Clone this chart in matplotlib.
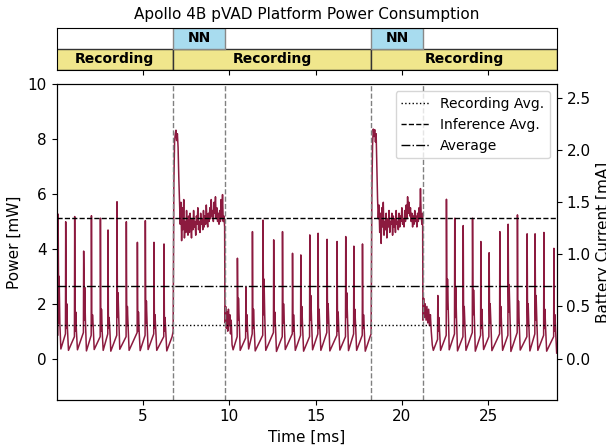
import numpy as np
import matplotlib.pyplot as plt

plt.rcParams['font.size'] = 11

VOLT = 3.8  # mW -> mA

# recording spikes: time [ms] and levels [mW]
rec_t = [0.10, 0.54, 1.06, 1.58, 2.03, 2.55, 2.99, 3.51, 4.05, 4.69, 5.15, 5.65, 6.23,
         10.48, 10.97, 11.35, 11.96, 12.58, 13.09, 13.67, 14.15, 14.67, 15.15, 15.67, 16.25, 16.75, 17.22, 17.72,
         22.08, 22.58, 23.06, 23.55, 24.09, 24.57, 25.05, 25.67, 26.15, 26.69, 27.25, 27.71, 28.22, 28.80]
rec_peak = [5.27, 4.99, 5.18, 3.92, 5.21, 5.12, 4.69, 5.72, 4.99, 4.24, 5.03, 4.24, 4.18,
            3.66, 2.60, 4.63, 5.05, 4.33, 4.63, 3.84, 3.78, 4.51, 4.57, 4.35, 4.27, 4.45, 4.10, 4.18,
            2.30, 5.81, 5.12, 4.85, 5.12, 4.27, 3.86, 4.63, 4.90, 5.24, 4.55, 4.55, 4.60, 4.02]
rec_bump = [3.0, 2.0, 1.7, 2.6, 1.6, 1.8, 1.5, 2.4, 1.9, 1.7, 2.1, 1.6, 1.5,
            2.2, 1.6, 1.8, 2.9, 1.7, 2.0, 1.6, 1.9, 2.3, 1.8, 2.0, 1.7, 2.4, 1.8, 1.6,
            1.5, 2.9, 2.6, 1.9, 2.5, 1.8, 2.0, 1.9, 2.7, 2.1, 2.0, 2.3, 1.8, 1.6]
rec_tail = [1.3, 1.1, 1.0, 1.4, 1.2, 1.0, 1.1, 1.5, 1.2, 1.0, 1.3, 1.1, 1.0,
            1.4, 1.0, 1.1, 1.6, 1.2, 1.3, 1.0, 1.2, 1.4, 1.1, 1.3, 1.0, 1.5, 1.2, 1.1,
            1.0, 1.8, 1.5, 1.2, 1.6, 1.1, 1.3, 1.2, 1.7, 1.3, 1.2, 1.4, 1.1, 1.0]
rec_low = [0.35, 0.30, 0.32, 0.28, 0.33, 0.30, 0.27, 0.34, 0.30, 0.29, 0.33, 0.30, 0.28,
           0.30, 0.35, 0.28, 0.30, 0.26, 0.33, 0.30, 0.27, 0.32, 0.30, 0.28, 0.31, 0.29, 0.30, 0.27,
           0.30, 0.32, 0.28, 0.30, 0.27, 0.33, 0.29, 0.30, 0.26, 0.31, 0.28, 0.30, 0.27, 0.20]
rec_pre = [0.85, 0.90, 0.80, 0.95, 0.85, 0.80, 0.90, 0.85, 0.80, 0.95, 0.85, 0.90, 0.80,
           0.80, 0.75, 0.90, 0.85, 0.95, 0.80, 0.90, 0.85, 0.80, 0.90, 0.95, 0.85, 0.80, 0.90, 0.85,
           0.70, 0.85, 0.90, 0.80, 0.95, 0.85, 0.80, 0.90, 0.85, 0.95, 0.80, 0.90, 0.85, 0.80]

# inference windows (NN), sampled every ~0.04 ms
nn1_start, nn1_end = 6.76, 9.74
nn1_p = [1.0, 6.4, 7.9, 8.2, 8.33, 7.95, 8.2, 7.7, 6.6, 5.8, 4.9, 5.7, 4.3, 5.5, 4.7, 5.8, 4.4, 5.0,
         4.6, 5.4, 4.8, 4.5, 5.2, 4.6, 5.3, 4.9, 4.4, 5.1, 4.7, 5.4, 4.8, 5.0, 4.5, 5.2, 4.9, 5.5,
         4.7, 5.0, 4.6, 5.3, 4.9, 5.1, 4.7, 5.4, 4.8, 5.2, 4.9, 5.6, 5.0, 4.8, 5.3, 5.0, 5.5, 5.1,
         5.8, 5.2, 5.4, 5.0, 5.7, 5.3, 5.9, 5.1, 5.5, 5.0, 5.3, 4.9, 5.4, 5.0, 5.8, 5.1, 5.98, 5.0,
         5.2, 4.8]
nn2_start, nn2_end = 18.22, 21.20
nn2_p = [0.9, 6.0, 7.8, 8.37, 8.1, 8.35, 7.9, 8.2, 6.9, 5.8, 5.1, 5.6, 4.6, 5.3, 4.2, 5.5, 4.8, 5.7,
         4.5, 5.0, 4.7, 5.3, 4.4, 5.1, 4.8, 5.4, 4.6, 5.0, 4.9, 5.3, 4.5, 5.2, 4.8, 5.1, 4.6, 5.4,
         4.9, 5.0, 4.7, 5.3, 4.8, 5.2, 5.0, 5.5, 4.9, 5.1, 4.8, 5.4, 5.0, 5.6, 5.1, 5.9, 5.3, 5.7,
         5.2, 5.5, 5.0, 5.3, 4.8, 5.2, 4.9, 5.4, 5.0, 5.2, 4.8, 5.3, 5.0, 5.5, 5.1, 6.2, 5.2, 4.9,
         5.3]

# settling right after inference
post1_t = [9.76, 9.80, 9.84, 9.88, 9.92, 9.96, 10.00, 10.04, 10.08, 10.12, 10.17, 10.23]
post1_p = [1.3, 1.9, 1.1, 1.7, 1.0, 1.8, 1.2, 1.6, 0.9, 1.4, 0.5, 0.32]
post2_t = [21.22, 21.26, 21.30, 21.35, 21.40, 21.45, 21.50, 21.55, 21.60, 21.65, 21.70, 21.76, 21.82]
post2_p = [1.4, 2.2, 1.5, 2.0, 1.4, 1.9, 1.3, 1.8, 1.2, 1.6, 1.0, 0.5, 0.3]

rec_avg = 1.22
inf_avg = 5.14
avg = 2.66

segments = [(0, 6.76), (6.76, 11.46), (18.22, 10.74)]
nn_blocks = [(6.76, 3.0), (18.22, 2.99)]
vlines = [6.76, 9.76, 18.22, 21.21]

# build trace
t, p = [0.02], [0.85]


def add_cycles(idx):
    for i in idx:
        ts = rec_t[i]
        t.extend([ts - 0.015, ts, ts + 0.02, ts + 0.04, ts + 0.06, ts + 0.10, ts + 0.16])
        p.extend([rec_pre[i], rec_peak[i], rec_bump[i], rec_tail[i], rec_bump[i], rec_tail[i], rec_low[i]])


add_cycles(range(0, 13))
t.append(6.70); p.append(0.8)
t.extend(np.linspace(nn1_start, nn1_end, len(nn1_p))); p.extend(nn1_p)
t.extend(post1_t); p.extend(post1_p)
add_cycles(range(13, 28))
t.append(18.16); p.append(0.8)
t.extend(np.linspace(nn2_start, nn2_end, len(nn2_p))); p.extend(nn2_p)
t.extend(post2_t); p.extend(post2_p)
add_cycles(range(28, 42))

fig = plt.figure(figsize=(6.06, 4.46), dpi=100)
ax_top = fig.add_axes([0.0936, 0.843, 0.825, 0.0953])
ax = fig.add_axes([0.0936, 0.1038, 0.825, 0.707])

xmin, xmax = 0.02, 28.96

# timeline bar
ax_top.broken_barh(segments, (0, 1), facecolors='khaki', edgecolor='#333333', linewidth=1)
ax_top.broken_barh(nn_blocks, (1, 1), facecolors='#a8dcef', edgecolor='#888888', linewidth=1)
for s, w in segments:
    ax_top.text(s + w / 2, 0.5, 'Recording', ha='center', va='center', fontweight='bold', fontsize=10)
for s, w in nn_blocks:
    ax_top.text(s + w / 2, 1.5, 'NN', ha='center', va='center', fontweight='bold', fontsize=10)
ax_top.set_xlim(xmin, xmax)
ax_top.set_ylim(0, 2)
ax_top.set_yticks([])
ax_top.set_xticks([5, 10, 15, 20, 25])
ax_top.tick_params(axis='x', labelbottom=False)
ax_top.set_title('Apollo 4B pVAD Platform Power Consumption', fontsize=11)

# power trace
ax.plot(t, p, color='#8c1a3f', linewidth=1.1)
for v in vlines:
    ax.axvline(v, color='gray', linestyle='--', linewidth=1)
ax.axhline(rec_avg, color='black', linestyle=':', linewidth=1, label='Recording Avg.')
ax.axhline(inf_avg, color='black', linestyle='--', linewidth=1, label='Inference Avg.')
ax.axhline(avg, color='black', linestyle='-.', linewidth=1, label='Average')
ax.set_xlim(xmin, xmax)
ax.set_ylim(-1.5, 10)
ax.set_xlabel('Time [ms]')
ax.set_ylabel('Power [mW]')
ax.legend(loc='upper right', fontsize=10)

ax2 = ax.twinx()
ax2.set_ylim(-1.5 / VOLT, 10 / VOLT)
ax2.set_ylabel('Battery Current [mA]')

fig.savefig('out.png', dpi=100)
